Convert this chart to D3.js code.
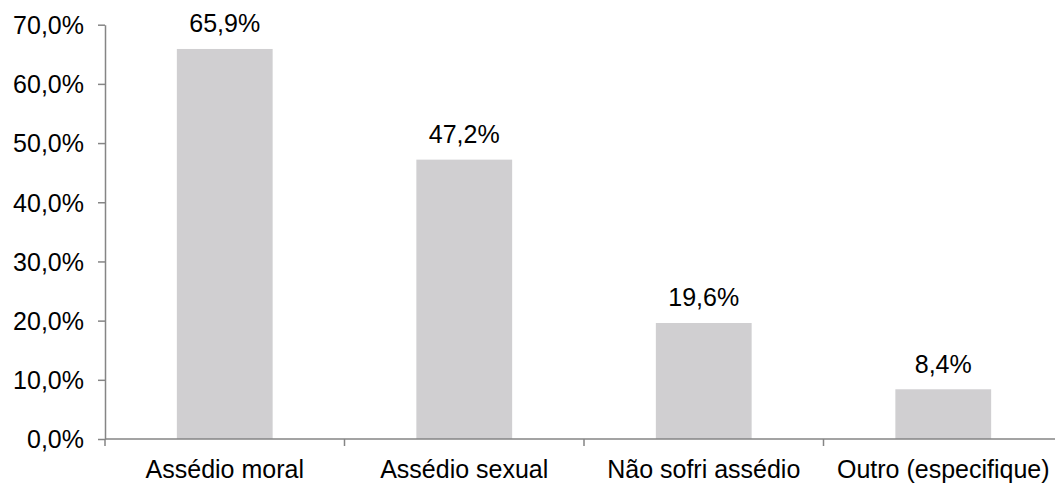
<!DOCTYPE html>
<html>
<head>
<meta charset="utf-8">
<script src="https://cdn.jsdelivr.net/npm/d3@7"></script>
<style>
  body { margin: 0; background: #fff; }
  svg { display: block; }
  text { font-family: "Liberation Sans", Arial, sans-serif; fill: #000; }
</style>
</head>
<body>
<script>
// data -----------------------------------------------------------------
const categories = ["Assédio moral", "Assédio sexual", "Não sofri assédio", "Outro (especifique)"];
const values = [65.9, 47.2, 19.6, 8.4];
const yTicks = [0, 10, 20, 30, 40, 50, 60, 70];

const width = 1055,
      height = 483,
      plotLeft = 105,
      plotBottom = 439,
      plotTop = 24.7,
      bandW = 239.5,
      barColor = "#d0cfd1",
      axisColor = "#858585",
      fontSize = 25;

const fmt = v => v.toFixed(1).replace(".", ",") + "%";

let svg = d3.select("body").append("svg")
  .attr("width", width)
  .attr("height", height);

let x = d3.scaleBand()
  .domain(categories)
  .range([plotLeft, plotLeft + bandW * categories.length])
  .paddingInner(0.6)
  .paddingOuter(0.3);

let y = d3.scaleLinear()
  .domain([0, 70])
  .range([plotBottom, plotTop]);

// bars
svg.append("g").selectAll("rect")
  .data(values)
  .enter().append("rect")
  .attr("x", (d, i) => x(categories[i]))
  .attr("width", x.bandwidth())
  .attr("y", d => y(d))
  .attr("height", d => y(0) - y(d))
  .attr("fill", barColor);

// value labels
svg.append("g").selectAll("text")
  .data(values)
  .enter().append("text")
  .attr("x", (d, i) => x(categories[i]) + x.bandwidth() / 2)
  .attr("y", d => y(d) - 16.5)
  .attr("text-anchor", "middle")
  .style("font-size", fontSize + "px")
  .text(d => fmt(d));

// y axis
let yAxis = svg.append("g")
  .attr("transform", `translate(${plotLeft},0)`)
  .call(d3.axisLeft(y).tickValues(yTicks).tickSize(7).tickSizeOuter(0).tickPadding(14)
    .tickFormat(d => fmt(d)));
yAxis.attr("font-family", null).attr("font-size", null);
yAxis.selectAll("text").style("font-size", fontSize + "px").attr("dy", "0.35em").attr("fill", "#000");
yAxis.selectAll("line").attr("stroke", axisColor).attr("stroke-width", 1.5);
yAxis.select(".domain").attr("stroke", axisColor).attr("stroke-width", 1.5);

// x axis (category boundaries get the tick marks)
let xEdge = d3.scaleLinear().domain([0, categories.length]).range([plotLeft, plotLeft + bandW * categories.length]);
let xAxisG = svg.append("g").attr("transform", `translate(0,${plotBottom})`);
xAxisG.append("line")
  .attr("x1", plotLeft).attr("x2", width)
  .attr("stroke", axisColor).attr("stroke-width", 1.5);
xAxisG.selectAll(".tick").data(d3.range(0, categories.length + 1))
  .enter().append("line")
  .attr("class", "tick")
  .attr("x1", d => xEdge(d)).attr("x2", d => xEdge(d))
  .attr("y1", 0).attr("y2", 7)
  .attr("stroke", axisColor).attr("stroke-width", 1.5);
xAxisG.selectAll(".cat").data(categories)
  .enter().append("text")
  .attr("class", "cat")
  .attr("x", d => x(d) + x.bandwidth() / 2)
  .attr("y", 39)
  .attr("text-anchor", "middle")
  .style("font-size", fontSize + "px")
  .text(d => d);
</script>
</body>
</html>
